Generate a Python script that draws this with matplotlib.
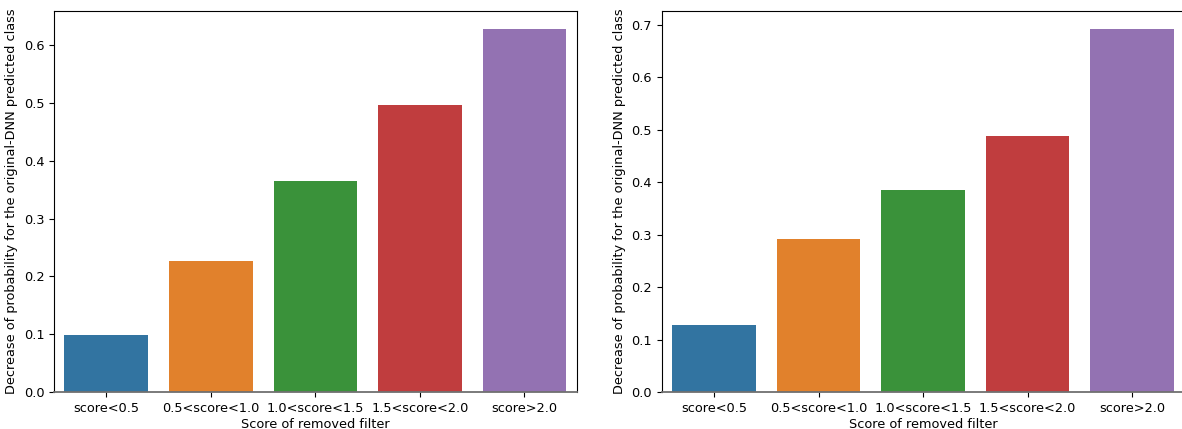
import matplotlib
matplotlib.use("Agg")
import matplotlib.pyplot as plt

categories = ["score<0.5", "0.5<score<1.0", "1.0<score<1.5", "1.5<score<2.0", "score>2.0"]
left_values = [0.098, 0.226, 0.366, 0.496, 0.628]
right_values = [0.127, 0.291, 0.385, 0.488, 0.692]
bar_colors = ["#3274a1", "#e1812c", "#3a923a", "#c03d3e", "#9372b2"]

xlabel = "Score of removed filter"
ylabel = "Decrease of probability for the original-DNN predicted class"

W, H = 1182, 429
fig = plt.figure(figsize=(W / 100, H / 100), dpi=100)

ax_w = 522.7 / W
ax_b = (H - 392) / H
ax_h = (392 - 11) / H
ax1 = fig.add_axes([54 / W, ax_b, ax_w, ax_h])
ax2 = fig.add_axes([661.7 / W, ax_b, ax_w, ax_h])

fs = 9.3
for ax, vals in ((ax1, left_values), (ax2, right_values)):
    x = range(len(categories))
    ax.bar(x, vals, width=0.8, color=bar_colors)
    ax.set_xlim(-0.5, len(categories) - 0.5)
    ax.set_ylim(0, max(vals) * 1.05)
    ax.set_xticks(list(x))
    ax.set_xticklabels(categories)
    ax.tick_params(labelsize=fs)
    ax.set_xlabel(xlabel, fontsize=fs, labelpad=2)
    ax.set_ylabel(ylabel, fontsize=fs, labelpad=4)
    ax.spines["bottom"].set_color("#707070")
    ax.spines["bottom"].set_linewidth(1.3)

fig.savefig("out.png", dpi=100)
